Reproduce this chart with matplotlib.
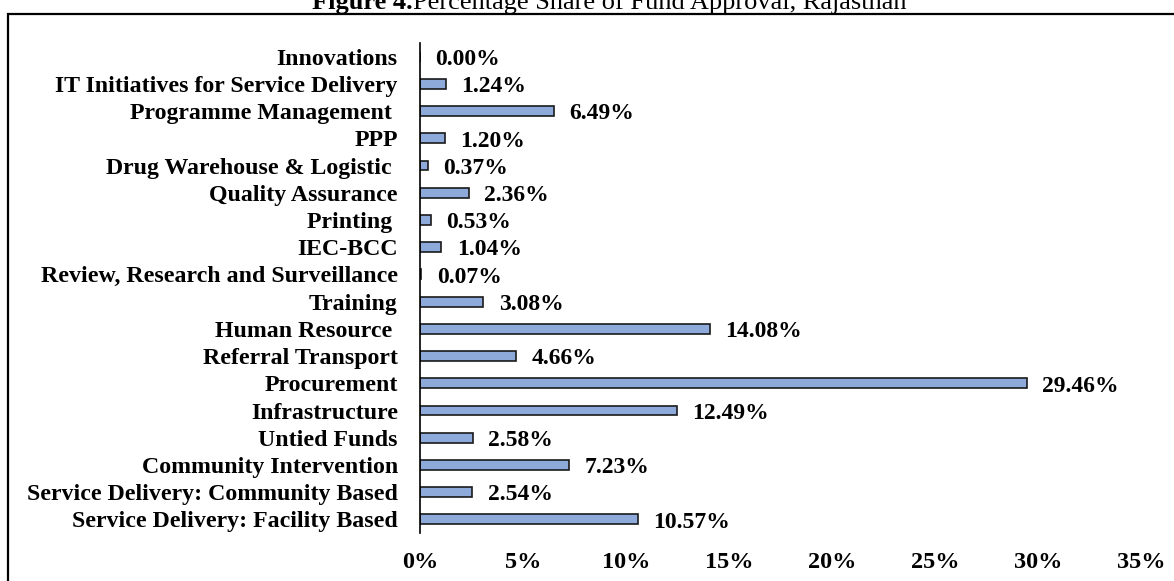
import matplotlib.pyplot as plt
from matplotlib.patches import Rectangle

plt.rcParams['font.family'] = ['Liberation Serif', 'DejaVu Serif']

# Data (top to bottom as shown in the chart)
categories = [
    'Innovations',
    'IT Initiatives for Service Delivery',
    'Programme Management ',
    'PPP',
    'Drug Warehouse & Logistic ',
    'Quality Assurance',
    'Printing ',
    'IEC-BCC',
    'Review, Research and Surveillance',
    'Training',
    'Human Resource ',
    'Referral Transport',
    'Procurement',
    'Infrastructure',
    'Untied Funds',
    'Community Intervention',
    'Service Delivery: Community Based',
    'Service Delivery: Facility Based',
]
shares = [0.00, 1.24, 6.49, 1.20, 0.37, 2.36, 0.53, 1.04, 0.07, 3.08,
          14.08, 4.66, 29.46, 12.49, 2.58, 7.23, 2.54, 10.57]
xticks = [0, 5, 10, 15, 20, 25, 30, 35]

fig = plt.figure(figsize=(11.74, 5.81), dpi=100)
ax = fig.add_axes([420 / 1174, 1 - 533 / 581, (1141 - 420) / 1174, (533 - 43) / 581])

ypos = list(range(len(categories)))
ax.barh(ypos, shares, height=0.36, color='#8eaadb', edgecolor='#1a1a1a', linewidth=1.2)

for y, v in zip(ypos, shares):
    ax.annotate(f'{v:.2f}%', xy=(v, y), xytext=(11, -2), textcoords='offset points',
                ha='left', va='center', fontsize=17, fontweight='bold')

ax.set_ylim(len(categories) - 0.5, -0.5)
ax.set_xlim(0, 35)
ax.set_yticks(ypos)
ax.set_yticklabels(categories, fontsize=17.2, fontweight='bold')
ax.set_xticks(xticks)
ax.set_xticklabels([f'{t}%' for t in xticks], fontsize=17.5, fontweight='bold')
ax.tick_params(axis='y', length=0, pad=16)
ax.tick_params(axis='x', length=0, pad=14)
for s in ['top', 'right', 'bottom']:
    ax.spines[s].set_visible(False)
ax.spines['left'].set_linewidth(1.2)

# Outer frame (cut off at right and bottom)
fig.patches.append(Rectangle((8 / 1174, -0.05), 1.2, 1 - 14 / 581 + 0.05,
                             transform=fig.transFigure, fill=False,
                             edgecolor='black', linewidth=1.6))

# Title, mostly cropped at the top of the picture
fig.text(413 / 1174, 1 - 9 / 581, 'Figure 4.', ha='right', va='baseline',
         fontsize=19, fontweight='bold')
fig.text(413 / 1174, 1 - 9 / 581, 'Percentage Share of Fund Approval, Rajasthan',
         ha='left', va='baseline', fontsize=19)

plt.savefig('out.png', dpi=100)
